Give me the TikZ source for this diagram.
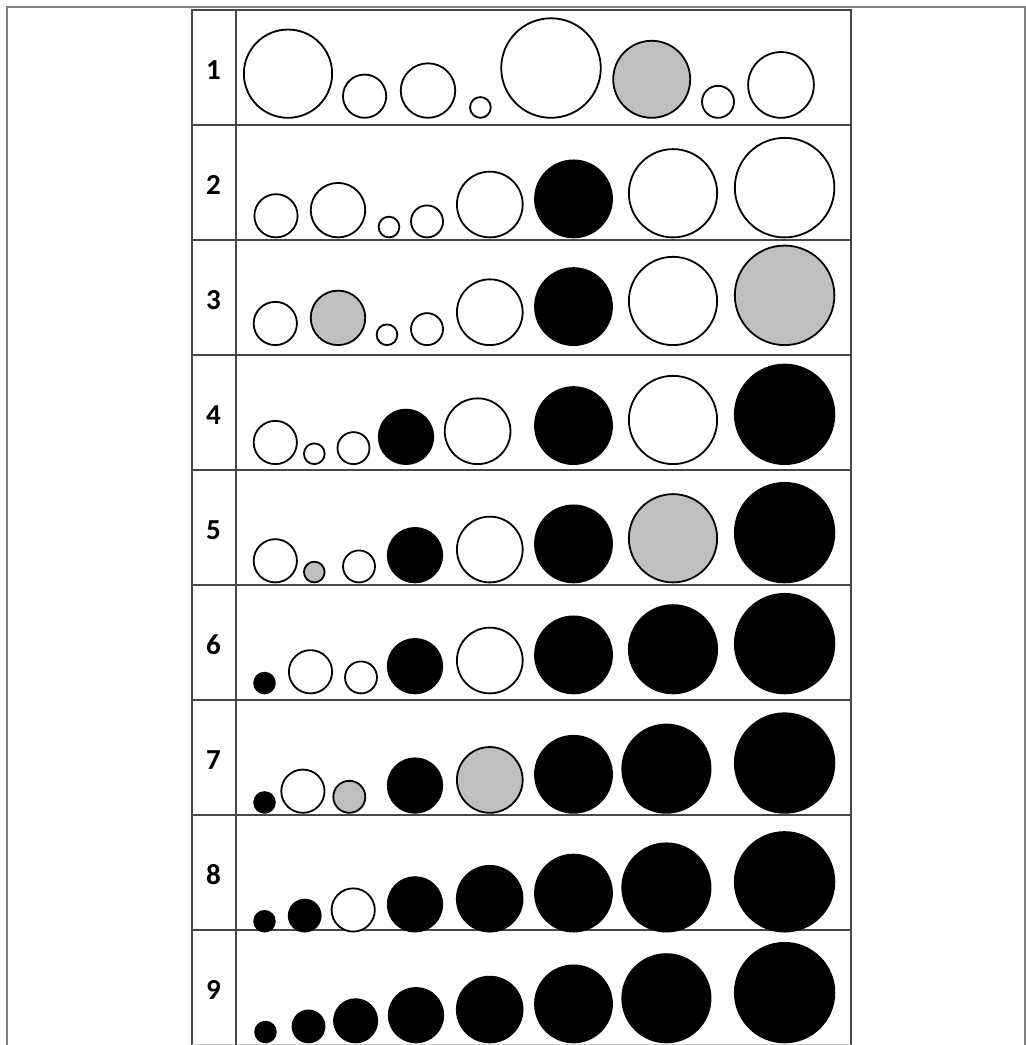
\documentclass[tikz,border=0pt]{standalone}
\usepackage{fontspec}
\setmainfont{Carlito}
\begin{document}
\begin{tikzpicture}[x=1pt,y=-1pt,
  framegray/.style={draw=black!50,line width=1.2pt},
  tablegray/.style={draw=black!72,line width=1.2pt},
  dot/.style={circle,inner sep=0pt,draw=black,line width=1.8pt},
  fillW/.style={dot,fill=white},
  fillG/.style={dot,fill=black!25},
  fillB/.style={dot,fill=black},
  rowlabel/.style={inner sep=0pt,font=\fontsize{29}{29}\selectfont\bfseries}]
\useasboundingbox (0,0) rectangle (1026,1045);
% outer frame
\coordinate (oA) at (7,1046);
\coordinate (oB) at (7,7);
\coordinate (oC) at (1025,7);
\coordinate (oD) at (1025,1046);
\draw[framegray] (oA) -- (oB) -- (oC) -- (oD);
% table
\coordinate (tTL) at (192,10);
\coordinate (tTR) at (851,10);
\coordinate (tBL) at (192,1044.5);
\coordinate (tBR) at (851,1044.5);
\coordinate (cT) at (236,10);
\coordinate (cB) at (236,1044.5);
\draw[tablegray] (tBL) -- (tTL) -- (tTR) -- (tBR);
\draw[draw=black!20,line width=1pt] (tBL) -- (tBR);
\draw[tablegray] (cT) -- (cB);
\foreach \i in {1,...,8}{
  \pgfmathsetmacro{\yy}{10+115*\i}
  \coordinate (hl\i) at (192,\yy);
  \coordinate (hr\i) at (851,\yy);
  \draw[tablegray] (hl\i) -- (hr\i);
}
% row labels
\foreach \i in {1,...,9}{
  \pgfmathsetmacro{\yy}{10+115*(\i-1)+60}
  \node[rowlabel] (lab\i) at (213.5,\yy) {\i};
}
% circles: row / baseline / list of x:k:fill
\foreach \row/\b/\lst in {
 1/118.7/{288/8/fillW,364.6/4/fillW,428/5/fillW,480.4/2/fillW,551/9/fillW,651.7/7/fillG,718/3/fillW,781/6/fillW},
 2/238.3/{276/4/fillW,338/5/fillW,389/2/fillW,427/3/fillW,489.8/6/fillW,573.5/7/fillB,673/8/fillW,784.6/9/fillW},
 3/346/{275.3/4/fillW,338/5/fillG,387/2/fillW,427/3/fillW,489.8/6/fillW,573.5/7/fillB,673/8/fillW,784.6/9/fillG},
 4/465/{275.3/4/fillW,314.3/2/fillW,353.5/3/fillW,406/5/fillB,477.6/6/fillW,573.5/7/fillB,673/8/fillW,784.6/9/fillB},
 5/583.3/{275.3/4/fillW,314.3/2/fillG,359/3/fillW,415/5/fillB,489.8/6/fillW,573.5/7/fillB,673/8/fillG,784.6/9/fillB},
 6/694.3/{264.5/2/fillB,310.5/4/fillW,361/3/fillW,415/5/fillB,489.8/6/fillW,573.5/7/fillB,673/8/fillB,784.6/9/fillB},
 7/813.7/{264.5/2/fillB,302.9/4/fillW,349.3/3/fillG,415/5/fillB,489.8/6/fillG,573.5/7/fillB,666.4/8/fillB,784.6/9/fillB},
 8/932.5/{264.5/2/fillB,304.7/3/fillB,353.2/4/fillW,415/5/fillB,489.7/6/fillB,573.5/7/fillB,666.4/8/fillB,784.6/9/fillB},
 9/1043.3/{265.5/2/fillB,308.5/3/fillB,355.6/4/fillB,416/5/fillB,489.7/6/fillB,573.5/7/fillB,666.4/8/fillB,784.6/9/fillB}}{
  \foreach \x/\k/\f [count=\n] in \lst {
    \pgfmathsetmacro{\dd}{11.26*\k-1.8}
    \pgfmathsetmacro{\cy}{\b-5.63*\k}
    \node[\f,minimum size=\dd pt] (c\row-\n) at (\x,\cy) {};
  }
}
\end{tikzpicture}
\end{document}
